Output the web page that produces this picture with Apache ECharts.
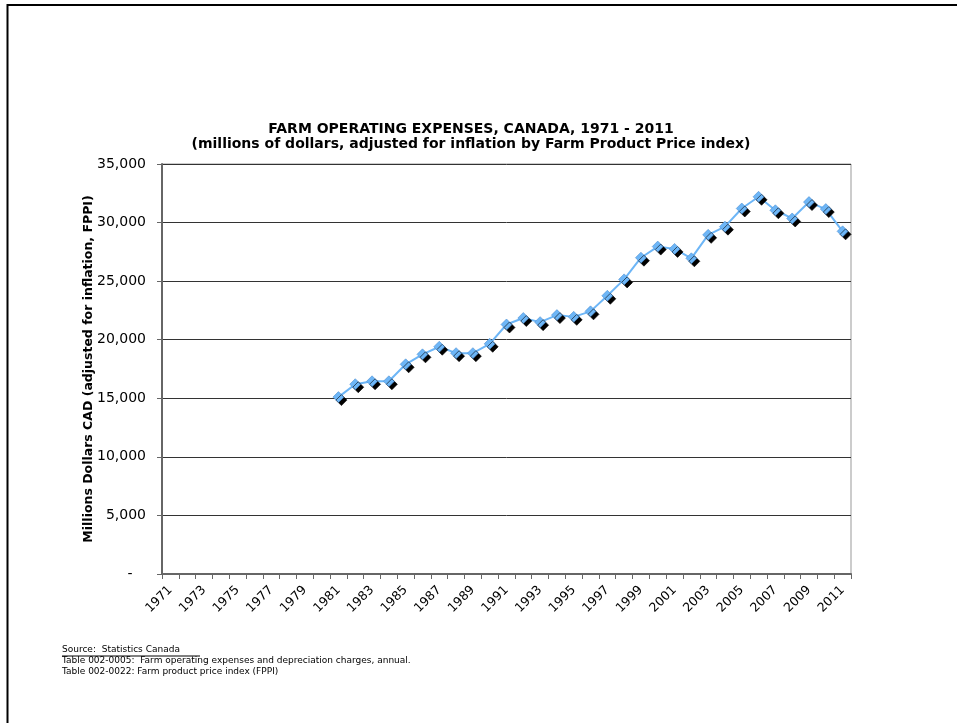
<!DOCTYPE html>
<html>
<head>
<meta charset="utf-8">
<script src="https://cdn.jsdelivr.net/npm/echarts@6/dist/echarts.min.js"></script>
<style>
html,body{margin:0;padding:0;background:#fff;}
#chart{width:957px;height:723px;}
</style>
</head>
<body>
<div id="chart"></div>
<script>
const years = [];
for (let y = 1971; y <= 2011; y++) years.push(String(y));

// Farm operating expenses (millions CAD, FPPI-adjusted); no data before 1981
const expenses = [
  null, null, null, null, null, null, null, null, null, null,
  15100, 16200, 16450, 16450, 17900, 18750, 19400, 18850, 18850, 19650,
  21300, 21850, 21500, 22100, 21950, 22420, 23750, 25150, 27000, 27950,
  27750, 26950, 28950, 29650, 31200, 32200, 31050, 30350, 31750, 31150,
  29250
];

const yTicks = { min: 0, max: 35000, interval: 5000 };

const titleText = 'FARM OPERATING EXPENSES, CANADA, 1971 - 2011\n(millions of dollars, adjusted for inflation by Farm Product Price index)';
const yAxisName = 'Millions Dollars CAD (adjusted for inflation, FPPI)';
const sourceLines = [
  'Source:  Statistics Canada ',
  'Table 002-0005:  Farm operating expenses and depreciation charges, annual.',
  'Table 002-0022: Farm product price index (FPPI)'
];

const font = '"DejaVu Sans", Verdana, sans-serif';
const chart = echarts.init(document.getElementById('chart'));

chart.setOption({
  backgroundColor: '#fff',
  animation: false,
  title: {
    text: titleText,
    left: 466,
    textAlign: 'center',
    top: 117,
    textStyle: { fontFamily: font, fontSize: 14, fontWeight: 'bold', color: '#000', lineHeight: 15 }
  },
  grid: {
    left: 162, right: 106, top: 164, bottom: 149,
    show: true, borderColor: '#999', borderWidth: 1, backgroundColor: 'transparent'
  },
  xAxis: {
    type: 'category',
    data: years,
    boundaryGap: true,
    axisLine: { lineStyle: { color: '#666', width: 2 } },
    axisTick: { show: true, interval: 0, length: 5, lineStyle: { color: '#666' } },
    axisLabel: {
      interval: 1, rotate: 45, fontFamily: font, fontSize: 12.5, color: '#000', margin: 14
    },
    splitLine: { show: false }
  },
  yAxis: {
    type: 'value',
    min: yTicks.min, max: yTicks.max, interval: yTicks.interval,
    name: yAxisName,
    nameLocation: 'middle',
    nameGap: 67,
    nameMoveOverlap: false,
    nameTextStyle: { fontFamily: font, fontSize: 12.5, fontWeight: 'bold', color: '#000' },
    axisLine: { show: true, lineStyle: { color: '#666', width: 2 } },
    axisTick: { show: true, length: 5, lineStyle: { color: '#666' } },
    axisLabel: {
      fontFamily: font, fontSize: 14, color: '#000', margin: 16,
      formatter: v => v === 0 ? '-   ' : v.toLocaleString('en-US')
    },
    splitLine: { show: true, lineStyle: { color: '#333', width: 1 } }
  },
  series: [{
    type: 'line',
    data: expenses,
    connectNulls: false,
    symbol: 'diamond',
    symbolSize: 11,
    lineStyle: { color: '#6db6f7', width: 2 },
    itemStyle: {
      color: '#6db6f7', borderColor: '#4f8fd0', borderWidth: 0.6,
      shadowColor: '#000', shadowBlur: 0, shadowOffsetX: 3, shadowOffsetY: 3
    },
    emphasis: { disabled: true }
  }],
  graphic: [
    { type: 'polyline', shape: { points: [[7.5, 723], [7.5, 5], [957, 5]] },
      style: { stroke: '#000', lineWidth: 2, fill: null }, silent: true },
    { type: 'text', left: 62, top: 645,
      style: { text: sourceLines[0], font: '9px ' + font, fill: '#000' } },
    { type: 'line', shape: { x1: 62, y1: 656, x2: 200, y2: 656 },
      style: { stroke: '#000', lineWidth: 1 } },
    { type: 'text', left: 62, top: 656,
      style: { text: sourceLines[1], font: '9px ' + font, fill: '#000' } },
    { type: 'text', left: 62, top: 667,
      style: { text: sourceLines[2], font: '9px ' + font, fill: '#000' } }
  ]
});
</script>
</body>
</html>
